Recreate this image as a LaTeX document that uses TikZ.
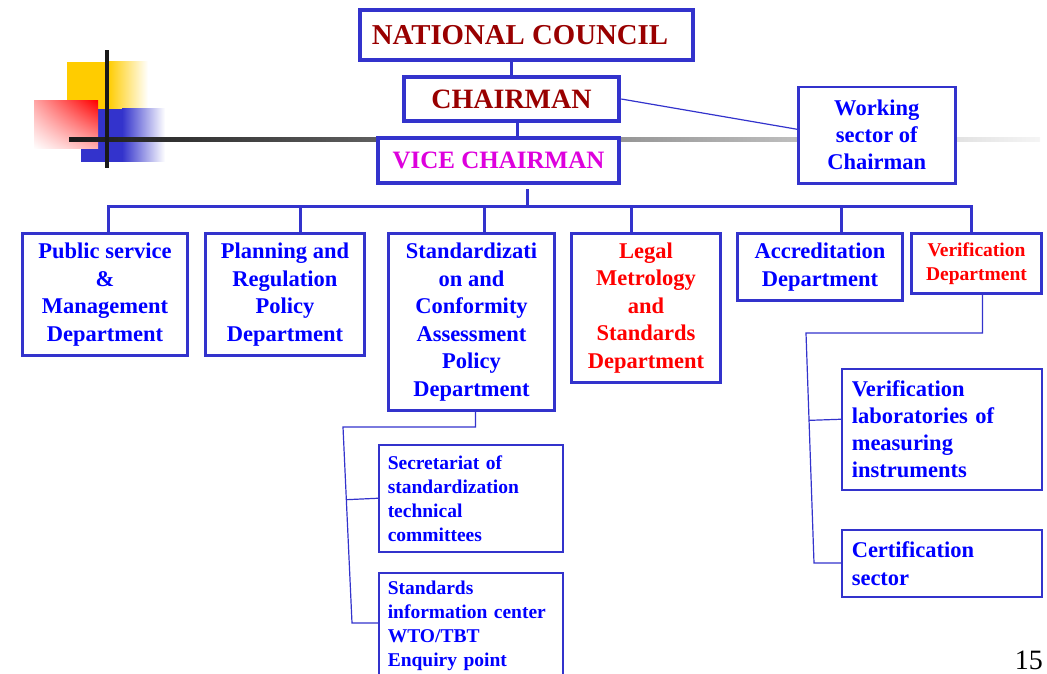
\documentclass[tikz,border=0pt]{standalone}
\usepackage{fontspec}
\setmainfont{Liberation Serif}
\usetikzlibrary{positioning,calc,shadings}

\definecolor{boxblue}{RGB}{51,51,204}
\definecolor{txtblue}{RGB}{0,0,255}
\definecolor{darkred}{RGB}{153,0,0}
\definecolor{vcmagenta}{RGB}{221,0,221}
\definecolor{txtred}{RGB}{255,0,0}
\definecolor{decoyellow}{RGB}{255,204,0}

\begin{document}
\begin{tikzpicture}[x=1pt, y=-1pt,
  topbox/.style={draw=boxblue, fill=white, line width=4.5pt, inner sep=0pt, text=darkred, font=\bfseries\fontsize{28}{30}\selectfont},
  deptbox/.style={draw=boxblue, fill=white, line width=3pt, inner sep=0pt, align=center, anchor=north west, text=txtblue, font=\bfseries\fontsize{22.5}{27.5}\selectfont},
  subbox/.style={draw=boxblue, fill=white, line width=1.5pt, inner xsep=10pt, inner ysep=0pt, align=left, anchor=north west, text=txtblue},
  bus/.style={draw=boxblue, line width=3pt},
  link/.style={draw=boxblue, line width=1.2pt}]
\useasboundingbox (0,0) rectangle (1047,674);
% slide decoration
\fill[decoyellow] (67,62) rectangle (108,109);
\shade[left color=decoyellow, right color=white] (108,62) rectangle (148,109);
\fill[boxblue] (81,109) rectangle (122,162);
\shade[left color=boxblue, right color=white] (122,109) rectangle (165,162);
\shade[upper right=red, lower left=white, upper left=red!35, lower right=red!30] (34,101) rectangle (98,149);
\shade[left color=black!90, right color=black!4] (69,138) rectangle (1040,142);
\fill[black!90] (105,50) rectangle (109,168);
% top of the chart
\node[topbox, minimum width=333pt, minimum height=50pt, font=\bfseries\fontsize{28.8}{30}\selectfont] (council) at (526.5,35) {NATIONAL COUNCIL\kern13pt};
\node[topbox, minimum width=215pt, minimum height=44pt] (chair) at (511.5,99) {CHAIRMAN};
\node[topbox, minimum width=241pt, minimum height=45pt, text=vcmagenta, font=\bfseries\fontsize{25}{28}\selectfont] (vice) at (498.5,160.5) {VICE CHAIRMAN};
\node[deptbox, line width=2.5pt, minimum width=157pt, minimum height=96pt, font=\bfseries\fontsize{22.5}{27}\selectfont] (work) at (797,86) {Working\\sector of\\Chairman};
% departments
\node[deptbox, minimum width=165pt, minimum height=122pt] (pubdept) at (21,232) {Public service\\\&\\Management\\Department};
\node[deptbox, minimum width=159pt, minimum height=122pt] (plandept) at (204,232) {Planning and\\Regulation\\Policy\\Department};
\node[deptbox, minimum width=166pt, minimum height=177pt] (stddept) at (387,232) {Standardizati\\on and\\Conformity\\Assessment\\Policy\\Department};
\node[deptbox, minimum width=149pt, minimum height=149pt, text=txtred] (legaldept) at (570,232) {Legal\\Metrology\\and\\Standards\\Department};
\node[deptbox, minimum width=165pt, minimum height=67pt] (accdept) at (736,232) {Accreditation\\Department};
\node[deptbox, minimum width=130pt, minimum height=60pt, text=txtred, font=\bfseries\fontsize{19.5}{24}\selectfont] (verdept) at (910,232) {Verification\\Department};
% sectors
\node[subbox, text width=166pt, inner xsep=9pt, minimum height=107pt, font=\bfseries\fontsize{19.5}{24}\selectfont] (sec) at (378,444) {Secretariat of\\standardization\\technical\\committees};
\node[subbox, text width=166pt, inner xsep=9pt, minimum height=107pt, font=\bfseries\fontsize{19.5}{24}\selectfont] (info) at (378,572) {Standards\\information center\\WTO/TBT\\Enquiry point};
\node[subbox, text width=180pt, minimum height=121pt, font=\bfseries\fontsize{22.5}{27}\selectfont] (lab) at (841,368) {Verification\\laboratories of\\measuring\\instruments};
\node[subbox, text width=180pt, minimum height=67pt, font=\bfseries\fontsize{22.5}{28}\selectfont] (cert) at (841,529) {Certification\\sector};
\node[font=\fontsize{28}{30}\selectfont, inner sep=0pt, anchor=base east] (pagenum) at (1043,669) {15};
% connectors
\draw[bus] (chair.north) -- (chair.north |- council.south);
\draw[bus] ([xshift=5.5pt]chair.south) -- ([xshift=5.5pt]chair.south |- vice.north);
\draw[link] (chair.east) -- ([yshift=6pt]work.west);
\coordinate (vstub) at (527,189);
\coordinate (bus) at (527,206);
\draw[bus] (vstub) -- (bus);
\coordinate (b1) at (108,206);
\coordinate (b2) at (300,206);
\coordinate (b3) at (484,206);
\coordinate (b4) at (631,206);
\coordinate (b5) at (841,206);
\coordinate (b6) at (971,206);
\draw[bus] (b1 |- pubdept.north) -- (b1) -- (b6) -- (b6 |- verdept.north);
\foreach \d/\b in {plandept/b2, stddept/b3, legaldept/b4, accdept/b5}
  \draw[bus] (\b) -- (\b |- \d.north);
\coordinate (skneeL) at (343,427);
\coordinate (sfootL) at (352,623);
\draw[link] ([xshift=4pt]stddept.south) |- (skneeL) -- (sfootL) -- (sfootL -| info.west);
\draw[link] ($(skneeL)!(sec.west)!(sfootL)$) -- (sec.west);
\coordinate (vknee) at (806,333);
\coordinate (vfoot) at (814,563);
\draw[link] ([xshift=6pt]verdept.south) |- (vknee) -- (vfoot) -- (vfoot -| cert.west);
\draw[link] ($(vknee)!([yshift=10pt]lab.west)!(vfoot)$) -- ([yshift=10pt]lab.west);
\end{tikzpicture}
\end{document}
